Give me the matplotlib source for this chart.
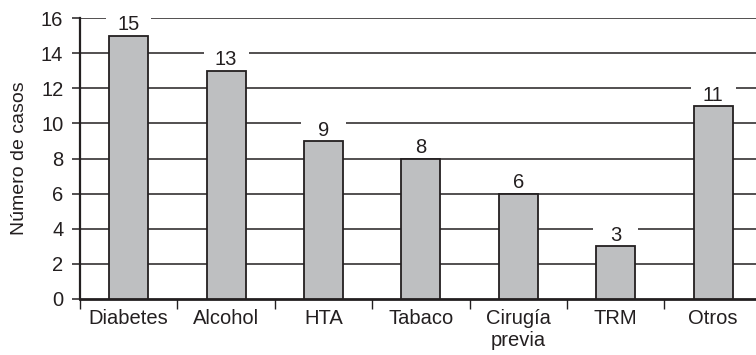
import matplotlib.pyplot as plt
import numpy as np
from matplotlib.patches import Rectangle

plt.rcParams['font.family'] = ['Liberation Sans', 'DejaVu Sans']

# data
categories = ['Diabetes', 'Alcohol', 'HTA', 'Tabaco', 'Cirugía\nprevia', 'TRM', 'Otros']
casos = [15, 13, 9, 8, 6, 3, 11]

ink = '#231f20'
fig = plt.figure(figsize=(7.56, 3.55), dpi=100)
ax = fig.add_axes([80/756, 56/355, 676/756, 281/355])

x = np.arange(len(categories))
ax.bar(x, casos, width=0.4, color='#bebfc1', edgecolor=ink, linewidth=1.3, zorder=3)

# grid lines on every y tick
for yv in range(2, 17, 2):
    ax.axhline(yv, color=ink, linewidth=1.1, zorder=1)

# value labels, white patch behind breaks the grid line
for xi, v in zip(x, casos):
    ax.add_patch(Rectangle((xi - 0.23, v + 0.12), 0.46, 1.3, facecolor='white',
                           edgecolor='none', zorder=2, clip_on=False))
    ax.text(xi, v + 0.3, str(v), ha='center', va='baseline', fontsize=14.5, color=ink, zorder=4)

ax.set_xlim(-0.5, 6.44)
ax.set_ylim(0, 16)
ax.set_yticks(range(0, 17, 2))
ax.set_xticks(x)
ax.set_xticklabels(categories, fontsize=14.5, color=ink, linespacing=1.2)
ax.set_xticks(np.arange(-0.5, 6.5, 1), minor=True)
ax.tick_params(axis='x', which='major', length=0, pad=7)
ax.tick_params(axis='x', which='minor', length=7, width=1, color=ink)
ax.tick_params(axis='y', length=6, width=1.1, color=ink, labelsize=14.5, labelcolor=ink, pad=6)
ax.set_ylabel('Número de casos', fontsize=14, color=ink, labelpad=9)

for s in ['top', 'right']:
    ax.spines[s].set_visible(False)
ax.spines['left'].set_linewidth(1.6)
ax.spines['left'].set_color(ink)
ax.spines['bottom'].set_linewidth(2)
ax.spines['bottom'].set_color(ink)

fig.savefig('out.png', dpi=100)
